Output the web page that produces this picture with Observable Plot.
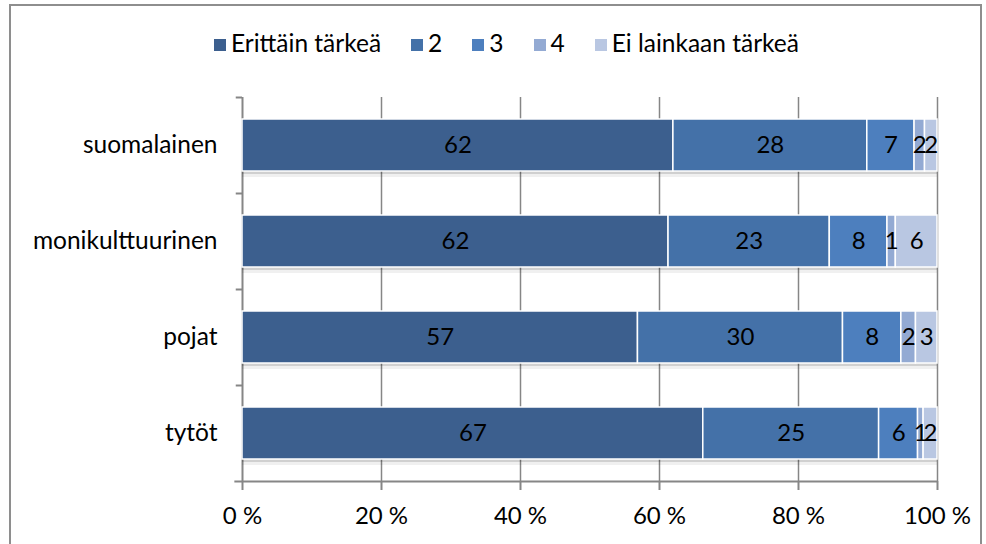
<!DOCTYPE html>
<html>
<head>
<meta charset="utf-8">
<script src="https://cdn.jsdelivr.net/npm/d3@7"></script>
<script src="https://cdn.jsdelivr.net/npm/@observablehq/plot@0.6"></script>
<style>
  body { margin: 0; background: #fff; font-family: Lato, "Open Sans", sans-serif; }
  #wrap { position: relative; width: 986px; height: 544px; overflow: hidden; }
  #border { position: absolute; left: 9px; top: 4px; width: 973px; height: 600px; border: 2px solid #8e8e8e; box-sizing: border-box; }
  #legend { position: absolute; left: 214px; top: 28px; display: flex; align-items: center; font-size: 24.5px; color: #000; white-space: nowrap; }
  #legend .item { display: flex; align-items: center; margin-right: 30px; }
  #legend .sw { width: 12px; height: 12px; margin-right: 5px; margin-top: 4px; }
  #chart { position: absolute; left: 0; top: 0; }
</style>
</head>
<body>
<div id="wrap">
  <div id="border"></div>
  <div id="chart"></div>
  <div id="legend"></div>
</div>
<script>
const categories = ["suomalainen", "monikulttuurinen", "pojat", "tytöt"];
const levels = ["Erittäin tärkeä", "2", "3", "4", "Ei lainkaan tärkeä"];
const colors = ["#3c5f8e", "#4471a8", "#4d7fbe", "#93aad3", "#b9c7e2"];

// bar widths (% of respondents)
const suomalainen = [62.0, 27.9, 6.8, 1.5, 1.8];
const monikulttuurinen = [61.3, 23.2, 8.3, 1.2, 6.0];
const pojat = [56.9, 29.5, 8.4, 2.1, 3.1];
const tytot = [66.3, 25.3, 5.6, 0.8, 2.0];

// printed data labels
const labelsSuomalainen = [62, 28, 7, 2, 2];
const labelsMonikulttuurinen = [62, 23, 8, 1, 6];
const labelsPojat = [57, 30, 8, 2, 3];
const labelsTytot = [67, 25, 6, 1, 2];

const xTicks = [0, 20, 40, 60, 80, 100];

const series = [suomalainen, monikulttuurinen, pojat, tytot];
const labels = [labelsSuomalainen, labelsMonikulttuurinen, labelsPojat, labelsTytot];
const data = [];
categories.forEach((c, i) => {
  levels.forEach((l, j) => {
    data.push({cat: c, level: l, value: series[i][j], label: labels[i][j]});
  });
});

const plot = Plot.plot({
  width: 986,
  height: 544,
  marginTop: 97,
  marginBottom: 63,
  marginLeft: 242,
  marginRight: 49,
  style: {fontFamily: "Lato, 'Open Sans', sans-serif", color: "#000", background: "transparent"},
  x: {domain: [0, 100], label: null},
  y: {domain: categories, paddingInner: 0.46, paddingOuter: 0.23, label: null},
  color: {domain: levels, range: colors},
  marks: [
    Plot.ruleX(xTicks.slice(1), {stroke: "#868686", strokeWidth: 1.5}),
    Plot.ruleX([0], {stroke: "#868686", strokeWidth: 2}),
    // left tick marks at category boundaries
    Plot.ruleY(categories, {y: d => d, x1: -0.9, x2: 0, dy: -48, stroke: "#868686", strokeWidth: 2}),
    Plot.ruleY(categories.slice(-1), {y: d => d, x1: -1.1, x2: 100, dy: 48, stroke: "#868686", strokeWidth: 2}),
    // shadow
    Plot.barX(categories, {y: d => d, x1: 0, x2: 100, dy: 3, fill: "#000", fillOpacity: 0.13}),
    Plot.barX(categories, {y: d => d, x1: 0, x2: 100, dy: 6, fill: "#000", fillOpacity: 0.06}),
    Plot.barX(data, Plot.stackX({x: "value", y: "cat", z: "level", fill: "level", stroke: "#fff", strokeWidth: 1.5, order: null})),
    Plot.textX(data, Plot.stackX({x: "value", y: "cat", z: "level", text: "label", order: null, fill: "#000", fontSize: 24})),
    Plot.axisX({ticks: xTicks, tickFormat: d => d + " %", tickSize: 9, tickPadding: 16, fontSize: 24, stroke: "#868686", strokeWidth: 2, strokeOpacity: 1, color: "#000", label: null}),
    Plot.axisY({tickSize: 0, tickPadding: 25, fontSize: 24.5, label: null})
  ]
});
document.getElementById("chart").appendChild(plot);

const legend = document.getElementById("legend");
levels.forEach((l, i) => {
  const item = document.createElement("div");
  item.className = "item";
  const sw = document.createElement("div");
  sw.className = "sw";
  sw.style.background = colors[i];
  const t = document.createElement("span");
  t.textContent = l;
  item.appendChild(sw);
  item.appendChild(t);
  legend.appendChild(item);
});
</script>
</body>
</html>
